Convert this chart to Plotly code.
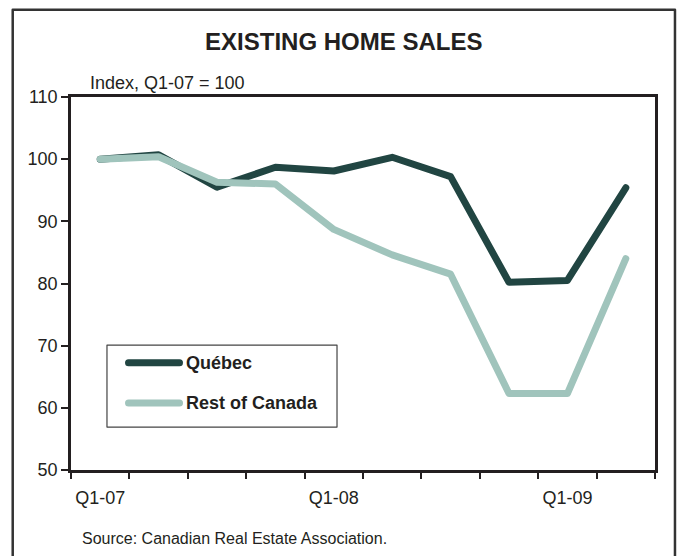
import plotly.graph_objects as go

quarters = ["Q1-07", "Q2-07", "Q3-07", "Q4-07", "Q1-08", "Q2-08", "Q3-08", "Q4-08", "Q1-09", "Q2-09"]
tick_labels = ["Q1-07", "", "", "", "Q1-08", "", "", "", "Q1-09", ""]
quebec = [100.0, 100.7, 95.5, 98.7, 98.1, 100.3, 97.2, 80.2, 80.5, 95.4]
rest_of_canada = [100.0, 100.4, 96.3, 96.0, 88.7, 84.6, 81.5, 62.3, 62.3, 84.0]
y_ticks = [50, 60, 70, 80, 90, 100, 110]

DARK = "#214542"
LIGHT = "#a0c4bc"
TXT = "#231f20"
FONT = "Liberation Sans, Arial, sans-serif"

fig = go.Figure()
fig.add_trace(go.Scatter(x=quarters, y=quebec, mode="lines", name="Québec",
                         line=dict(color=DARK, width=7)))
fig.add_trace(go.Scatter(x=quarters, y=rest_of_canada, mode="lines", name="Rest of Canada",
                         line=dict(color=LIGHT, width=7)))

fig.update_layout(
    width=678, height=556,
    margin=dict(l=71, r=23, t=97, b=86, autoexpand=False),
    paper_bgcolor="white", plot_bgcolor="white",
    font=dict(family=FONT, color=TXT, size=18),
    showlegend=False,
    title=dict(text="<b>EXISTING HOME SALES</b>", x=0.507, xanchor="center",
               y=1 - 42 / 556, yanchor="middle", yref="container",
               font=dict(size=24, color=TXT, family=FONT)),
)
fig.update_xaxes(
    type="category", categoryorder="array", categoryarray=quarters,
    range=[-0.5, len(quarters) - 0.5],
    tickmode="array", tickvals=quarters, ticktext=tick_labels, tickangle=0,
    tickson="boundaries", ticks="outside", ticklen=6, tickwidth=2, tickcolor=TXT,
    ticklabelstandoff=10,
    showline=True, linewidth=2.5, linecolor=TXT, mirror=True,
    showgrid=False, zeroline=False,
    tickfont=dict(size=18, color=TXT, family=FONT),
)
fig.update_yaxes(
    range=[50, 110], tickmode="array", tickvals=y_ticks,
    ticks="outside", ticklen=7, tickwidth=2, tickcolor=TXT,
    showline=True, linewidth=2.5, linecolor=TXT, mirror=True,
    showgrid=False, zeroline=False,
    tickfont=dict(size=18, color=TXT, family=FONT),
)

# outer frame
fig.add_shape(type="rect", xref="paper", yref="paper",
              x0=-0.0998, x1=1.0342, y0=-0.26, y1=1.2341,
              line=dict(color="#333333", width=2.5), fillcolor="rgba(0,0,0,0)", layer="above")

# subtitle
fig.add_annotation(text="Index, Q1-07 = 100", xref="paper", yref="paper",
                   x=0.029, y=1.0, xanchor="left", yanchor="bottom", yshift=2, showarrow=False,
                   font=dict(size=18, color=TXT, family=FONT))

# source
fig.add_annotation(text="Source: Canadian Real Estate Association.", xref="paper", yref="paper",
                   x=0.0154, y=-0.205, xanchor="left", yanchor="bottom", yshift=-3, showarrow=False,
                   font=dict(size=16, color=TXT, family=FONT))

# custom legend
fig.add_shape(type="rect", xref="paper", yref="paper",
              x0=0.0616, x1=0.4555, y0=0.1152, y1=0.3349,
              line=dict(color="#444444", width=1.2), fillcolor="white", layer="above")
legend_items = [("Québec", DARK, 0.2874), ("Rest of Canada", LIGHT, 0.1795)]
for name, col, ly in legend_items:
    fig.add_shape(type="line", xref="paper", yref="paper",
                  x0=0.0985, x1=0.1858, y0=ly, y1=ly,
                  line=dict(color=col, width=7), layer="above")
    fig.add_annotation(text="<b>" + name + "</b>", xref="paper", yref="paper",
                       x=0.1935, y=ly, xanchor="left", yanchor="middle", showarrow=False,
                       font=dict(size=18, color=TXT, family=FONT))

post = """
document.body.style.margin='0px';
document.body.style.overflow='hidden';
(function(){
  var gd = document.getElementById('{plot_id}');
  function rounder(){
    document.querySelectorAll('.scatterlayer path.js-line, .shapelayer path').forEach(function(p){
      p.style.strokeLinecap='round'; p.style.strokeLinejoin='round';
    });
  }
  rounder();
  setTimeout(rounder, 0);
  if (gd && gd.on) { gd.on('plotly_afterplot', rounder); }
})();
"""

fig.write_html("out.html", post_script=post, config={"displayModeBar": False})
